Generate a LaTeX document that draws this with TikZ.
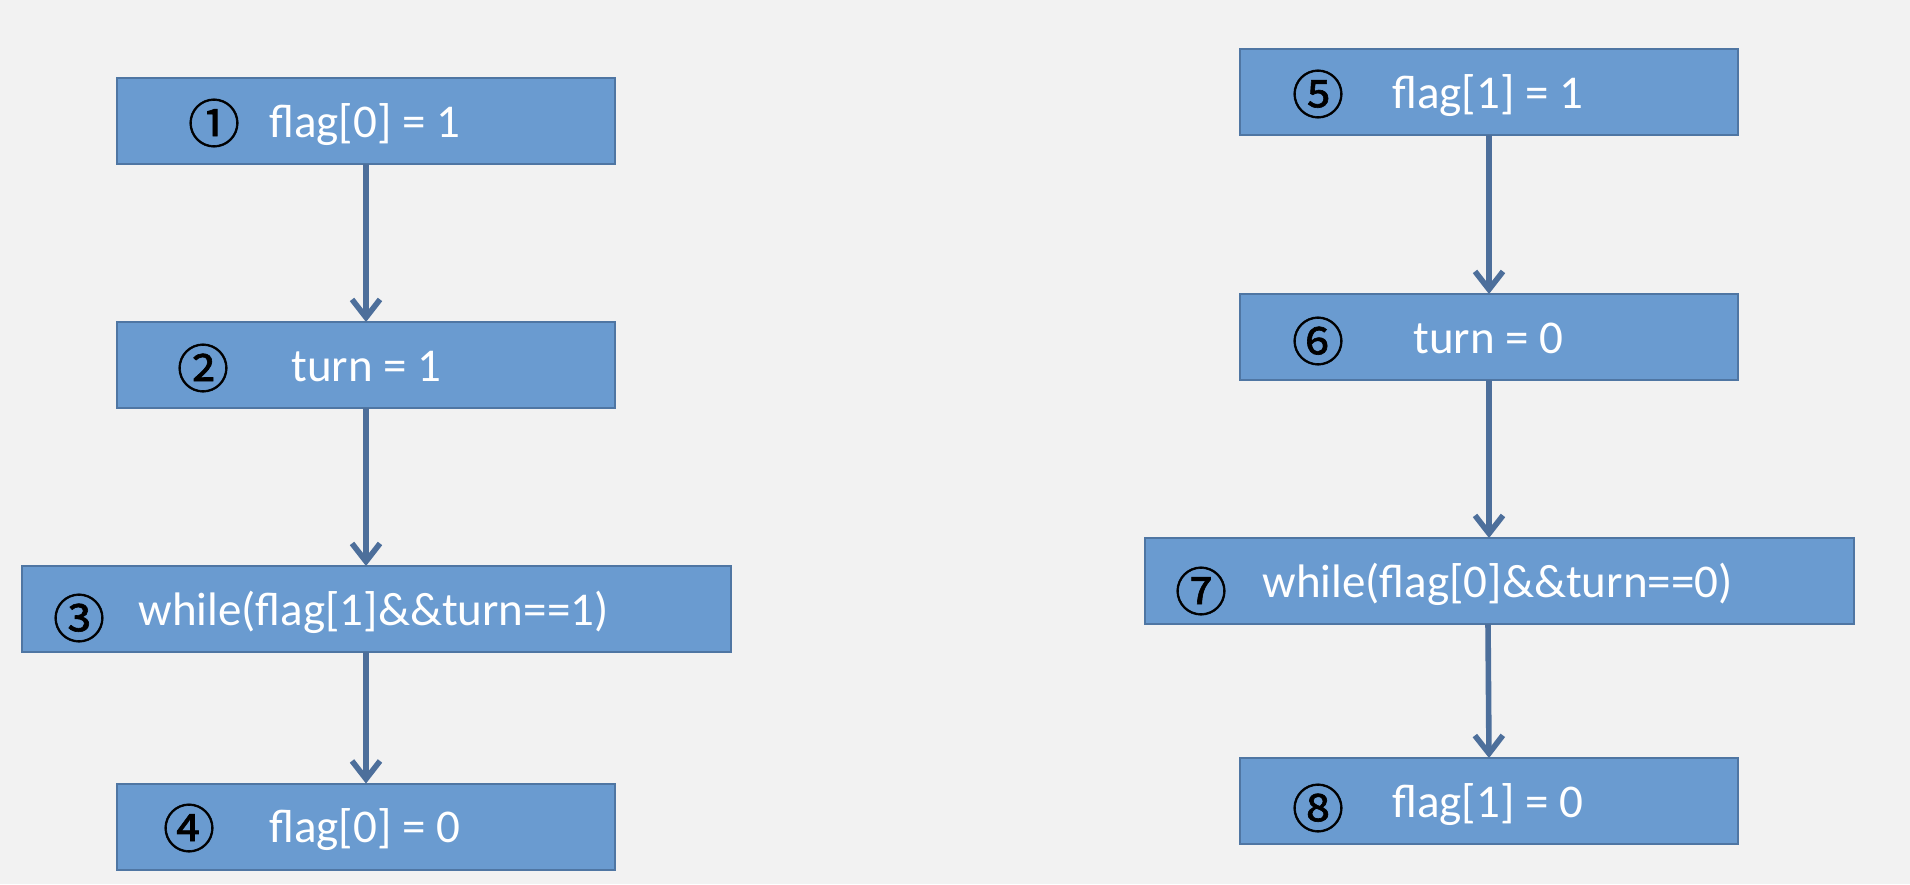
\documentclass[tikz,border=0pt]{standalone}
\usepackage{fontspec}
\setmainfont{Carlito}
\newfontfamily\circfont{Noto Sans CJK SC}[FakeBold=1.2]
\usetikzlibrary{arrows.meta,calc}
\definecolor{bgc}{HTML}{F2F2F2}
\definecolor{boxfill}{HTML}{6A9BD0}
\definecolor{boxline}{HTML}{4F76A3}
\definecolor{arrc}{HTML}{4D6F9B}
\tikzset{
  box/.style={draw=boxline, line width=1pt, fill=boxfill, minimum height=43pt, inner sep=0pt, outer sep=0pt},
  narrowbox/.style={box, minimum width=249pt},
  widebox/.style={box, minimum width=354.5pt},
  lbl/.style={anchor=base west, text=white, inner sep=0pt, font=\fontsize{23.5}{28}\selectfont},
  num/.style={anchor=center, text=black, inner sep=0pt, font=\circfont\fontsize{26}{30}\selectfont},
  flow/.style={draw=arrc, line width=2.8pt, -{Straight Barb[length=9pt,width=14pt,line width=2.8pt]}}
}
\begin{document}
\begin{tikzpicture}[x=0.5pt,y=-0.5pt]
\fill[bgc] (0,0) rectangle (1910,884);
\useasboundingbox (0,0) rectangle (1910,884);
% left column
\node[narrowbox] (b1) at (366,121) {};
\node[narrowbox] (b2) at (366,365) {};
\node[widebox] (b3) at (376.5,609) {};
\node[narrowbox] (b4) at (366,826.5) {};
% right column
\node[narrowbox] (b5) at (1489,92) {};
\node[narrowbox] (b6) at (1489,337) {};
\node[widebox] (b7) at (1499.5,581) {};
\node[narrowbox] (b8) at (1489,801) {};
% labels
\node[num] (n1) at (214,123) {①};
\node[lbl] (t1) at (269,137) {flag[0] = 1};
\node[num] (n2) at (203,368) {②};
\node[lbl] (t2) at (291,381) {turn = 1};
\node[num] (n3) at (79,618) {③};
\node[lbl] (t3) at (138,625) {while(flag[1]\&\&turn==1)};
\node[num] (n4) at (189,828) {④};
\node[lbl] (t4) at (269,842) {flag[0] = 0};
\node[num] (n5) at (1318,94) {⑤};
\node[lbl] (t5) at (1392,108) {flag[1] = 1};
\node[num] (n6) at (1318,341) {⑥};
\node[lbl] (t6) at (1413,353) {turn = 0};
\node[num] (n7) at (1201,591) {⑦};
\node[lbl] (t7) at (1262,597) {while(flag[0]\&\&turn==0)};
\node[num] (n8) at (1318,808) {⑧};
\node[lbl] (t8) at (1392,817) {flag[1] = 0};
% connectors
\draw[flow] (b1.south) -- (b2.north);
\draw[flow] (b2.south) -- (b2.south |- b3.north);
\draw[flow] (b2.south |- b3.south) -- (b4.north);
\draw[flow] (b5.south) -- (b6.north);
\draw[flow] (b6.south) -- (b6.south |- b7.north);
\draw[flow] ($(b6.south |- b7.south)+(-1,0)$) -- (b8.north);
\end{tikzpicture}
\end{document}
